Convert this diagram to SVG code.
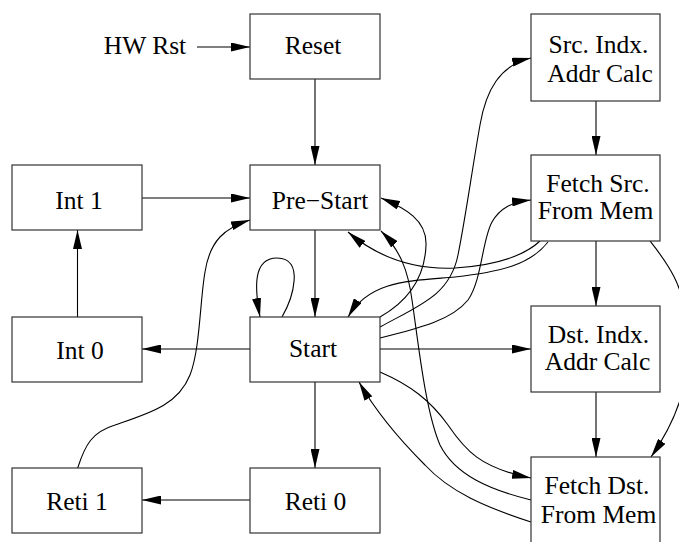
<svg xmlns="http://www.w3.org/2000/svg" width="679" height="542" viewBox="0 0 679 542">
  <style>
    .box { fill: #ffffff; stroke: #333333; stroke-width: 1.2; }
    .lbl { font-family: "Liberation Serif", "Times New Roman", serif; font-size: 25.5px; fill: #000000; text-anchor: middle; }
    .edge { fill: none; stroke: #000000; stroke-width: 1.1; marker-end: url(#arrow); }
  </style>
  <defs>
    <marker id="arrow" viewBox="0 0 19 9" refX="19" refY="4.5" markerUnits="userSpaceOnUse" markerWidth="19" markerHeight="9" orient="auto">
      <path d="M0,0 L19,4.5 L0,9 Z" fill="#000000"/>
    </marker>
  </defs>

  <rect width="679" height="542" fill="#ffffff"/>

  <!-- connectors -->
  <g id="edges">
    <path class="edge" d="M197,47 L250,47"/>
    <path class="edge" d="M315,79 L315,165"/>
    <path class="edge" d="M142,198 L250,198"/>
    <path class="edge" d="M77.5,317 L77.5,230"/>
    <path class="edge" d="M250,349 L142,349"/>
    <path class="edge" d="M315,230 L315,317"/>
    <path class="edge" d="M282,317 C293,298 305,258 277,258 C252,258 255,290 260,317"/>
    <path class="edge" d="M315,382 L315,468"/>
    <path class="edge" d="M250,500 L142,500"/>
    <path class="edge" d="M77.7,468 C85,445 92,432 115,425 C150,413 178,405 190,375 C200,350 200,300 205,272 C210,240 225,228 250,220"/>
    <path class="edge" d="M380,327 C420,305 450,295 458,255 C466,215 472,170 480,125 C486,90 500,65 531,58"/>
    <path class="edge" d="M380,338 C420,328 452,320 468,300 C482,280 482,240 492,222 C500,208 512,202 531,200"/>
    <path class="edge" d="M540,241 C525,255 500,265 455,268 C410,270 375,255 348,232"/>
    <path class="edge" d="M548,242 C530,265 500,272 455,277 C410,281 370,280 348,317"/>
    <path class="edge" d="M380,317 C410,300 425,275 426,245 C427,220 405,208 381,198"/>
    <path class="edge" d="M531,500 C490,490 455,475 440,445 C425,410 418,340 412,300 C408,270 400,250 381,231"/>
    <path class="edge" d="M531,522 C485,507 450,492 425,465 C400,440 375,410 359,382"/>
    <path class="edge" d="M380,372 C410,385 430,400 448,425 C465,450 480,468 531,478"/>
    <path class="edge" d="M380,349 L531,349"/>
    <path class="edge" d="M596,101 L596,155"/>
    <path class="edge" d="M596,241 L596,306"/>
    <path class="edge" d="M596,392 L596,457"/>
    <path class="edge" d="M650,241 C665,260 685,285 688,330 C690,380 680,415 651,457"/>
  </g>

  <text class="lbl" x="145" y="53.5">HW Rst</text>

  <g id="reset">
    <rect class="box" x="250" y="14" width="130" height="65"/>
    <text class="lbl" x="313" y="53.5">Reset</text>
  </g>
  <g id="prestart">
    <rect class="box" x="250" y="165" width="130" height="65"/>
    <text class="lbl" x="320" y="209">Pre−Start</text>
  </g>
  <g id="start">
    <rect class="box" x="250" y="317" width="130" height="65"/>
    <text class="lbl" x="313" y="357">Start</text>
  </g>
  <g id="reti0">
    <rect class="box" x="250" y="468" width="130" height="65"/>
    <text class="lbl" x="315.5" y="509.5">Reti 0</text>
  </g>
  <g id="int1">
    <rect class="box" x="12" y="165" width="130" height="65"/>
    <text class="lbl" x="79" y="209">Int 1</text>
  </g>
  <g id="int0">
    <rect class="box" x="12" y="317" width="130" height="65"/>
    <text class="lbl" x="80" y="359">Int 0</text>
  </g>
  <g id="reti1">
    <rect class="box" x="12" y="468" width="130" height="65"/>
    <text class="lbl" x="77" y="509.5">Reti 1</text>
  </g>
  <g id="srcindx">
    <rect class="box" x="531" y="14" width="129" height="87"/>
    <text class="lbl" x="598.5" y="52.5">Src. Indx.</text>
    <text class="lbl" x="600" y="82">Addr Calc</text>
  </g>
  <g id="fetchsrc">
    <rect class="box" x="531" y="155" width="129" height="86"/>
    <text class="lbl" x="598" y="191.5">Fetch Src.</text>
    <text class="lbl" x="595.5" y="219">From Mem</text>
  </g>
  <g id="dstindx">
    <rect class="box" x="531" y="306" width="129" height="86"/>
    <text class="lbl" x="598.5" y="342.5">Dst. Indx.</text>
    <text class="lbl" x="597.5" y="370">Addr Calc</text>
  </g>
  <g id="fetchdst">
    <rect class="box" x="531" y="457" width="129" height="90"/>
    <text class="lbl" x="597" y="494">Fetch Dst.</text>
    <text class="lbl" x="598.5" y="522.5">From Mem</text>
  </g>
</svg>
